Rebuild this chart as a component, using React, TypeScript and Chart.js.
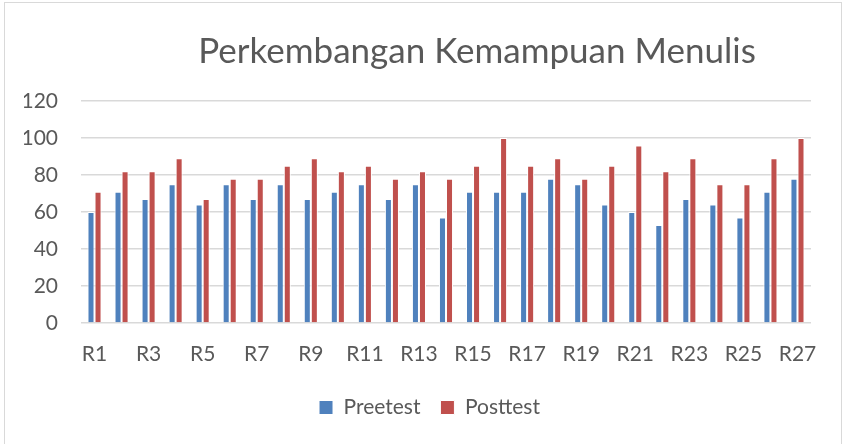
import React, { useEffect, useRef } from "react";
import { Chart, registerables } from "chart.js";

Chart.register(...registerables);

const categories: string[] = [
  "R1", "R2", "R3", "R4", "R5", "R6", "R7", "R8", "R9", "R10",
  "R11", "R12", "R13", "R14", "R15", "R16", "R17", "R18", "R19", "R20",
  "R21", "R22", "R23", "R24", "R25", "R26", "R27",
];
const preetest: number[] = [
  60, 71, 67, 75, 64, 75, 67, 75, 67, 71,
  75, 67, 75, 57, 71, 71, 71, 78, 75, 64,
  60, 53, 67, 64, 57, 71, 78,
];
const posttest: number[] = [
  71, 82, 82, 89, 67, 78, 78, 85, 89, 82,
  85, 78, 82, 78, 85, 100, 85, 89, 78, 85,
  96, 82, 89, 75, 75, 89, 100,
];
const seriesNames: string[] = ["Preetest", "Posttest"];
const chartTitle = "Perkembangan Kemampuan Menulis";
const yTicks = { min: 0, max: 120, step: 20 };

const FONT = "Lato";
const TEXT = "#595959";

const titlePlugin = {
  id: "customTitle",
  afterLayout(chart: any) {
    const lg = chart.legend;
    if (lg) {
      lg.left += 12;
      lg.right += 12;
    }
  },
  afterDraw(chart: any) {
    const ctx = chart.ctx;
    ctx.save();
    ctx.font = `35px ${FONT}`;
    ctx.fillStyle = TEXT;
    ctx.textAlign = "center";
    ctx.textBaseline = "alphabetic";
    ctx.fillText(chartTitle, 477, 63);
    ctx.restore();
  },
};

export default function App() {
  const ref = useRef<HTMLCanvasElement | null>(null);
  useEffect(() => {
    if (!ref.current) return;
    const chart = new Chart(ref.current, {
      type: "bar",
      data: {
        labels: categories,
        datasets: [
          {
            label: seriesNames[0],
            data: preetest,
            backgroundColor: "#4F81BD",
            borderColor: "#ffffff",
            borderWidth: 1,
            categoryPercentage: 0.52,
            barPercentage: 1,
          },
          {
            label: seriesNames[1],
            data: posttest,
            backgroundColor: "#C0504D",
            borderColor: "#ffffff",
            borderWidth: 1,
            categoryPercentage: 0.52,
            barPercentage: 1,
          },
        ],
      },
      options: {
        animation: false,
        responsive: false,
        devicePixelRatio: 1,
        layout: { padding: { left: 24, right: 33, top: 101, bottom: 16 } },
        plugins: {
          title: { display: false },
          tooltip: { enabled: false },
          legend: {
            display: true,
            position: "bottom",
            labels: {
              boxWidth: 14,
              boxHeight: 14,
              padding: 20,
              color: TEXT,
              font: { family: FONT, size: 21 },
            },
          },
        },
        scales: {
          x: {
            grid: { display: false },
            border: { display: false },
            ticks: {
              autoSkip: false,
              maxRotation: 0,
              minRotation: 0,
              padding: 11,
              color: TEXT,
              font: { family: FONT, size: 21 },
              callback: (_v: any, i: number) => (i % 2 === 0 ? categories[i] : ""),
            },
            afterFit: (s: any) => {
              s.height = 54;
            },
          },
          y: {
            min: yTicks.min,
            max: yTicks.max,
            grid: { color: "#d9d9d9", lineWidth: 1.5, drawTicks: false },
            border: { display: false },
            ticks: {
              stepSize: yTicks.step,
              padding: 23,
              color: TEXT,
              font: { family: FONT, size: 21 },
            },
            afterFit: (s: any) => {
              s.width = 57;
            },
          },
        },
      },
      plugins: [titlePlugin],
    });
    return () => chart.destroy();
  }, []);

  return (
    <div
      style={{
        position: "absolute",
        left: 0,
        top: 0,
        width: 844,
        height: 444,
        background: "#ffffff",
        overflow: "hidden",
      }}
    >
      <div
        style={{
          position: "absolute",
          left: 4,
          top: 2,
          width: 838,
          height: 460,
          border: "1.5px solid #d9d9d9",
          boxSizing: "border-box",
        }}
      />
      <canvas ref={ref} width={844} height={444} style={{ position: "absolute", left: 0, top: 0 }} />
    </div>
  );
}
